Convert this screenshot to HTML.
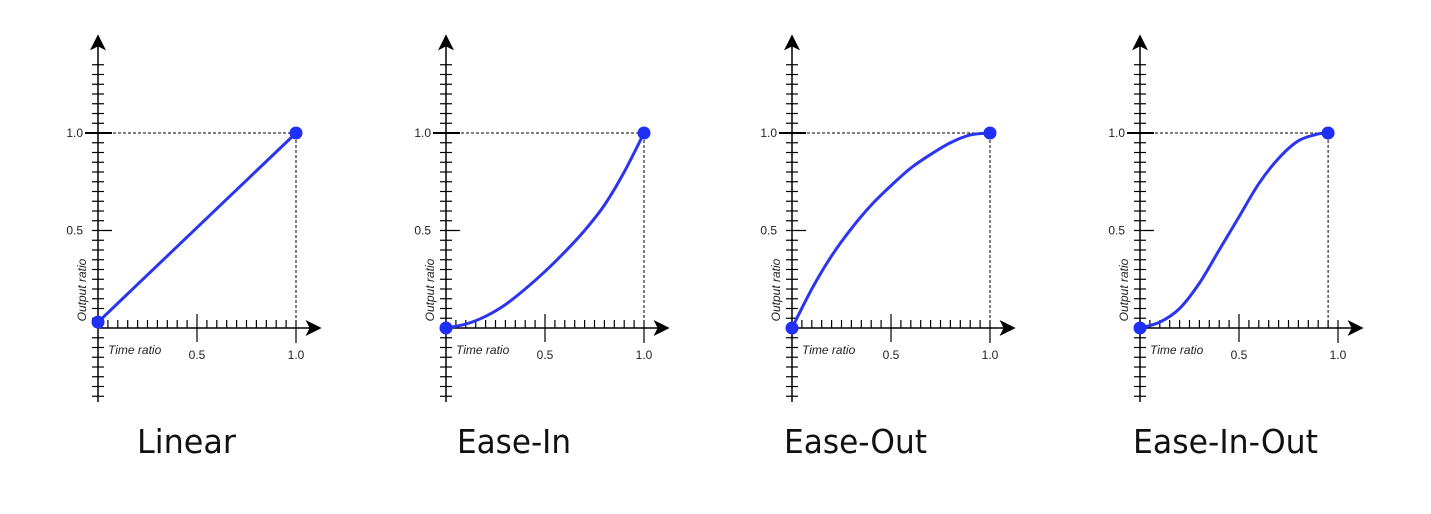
<!DOCTYPE html>
<html><head><meta charset="utf-8"><style>
html,body{margin:0;padding:0;background:#fff;}
svg{display:block;}
</style></head><body>
<svg id="chart" width="1431" height="514" viewBox="0 0 1431 514" xmlns="http://www.w3.org/2000/svg">
<defs>
<marker id="arr" viewBox="0 0 10 10" refX="9" refY="5" markerWidth="22" markerHeight="16" markerUnits="userSpaceOnUse" orient="auto"><path d="M0,0 L10,5 L0,10 L2.5,5 z" fill="#000"/></marker>
</defs>
</svg>
<script>
const titles = ["Linear","Ease-In","Ease-Out","Ease-In-Out"];
const titleWidths = [99,114,143,185];
const titleX = [137,457,784,1133];
const originsX = [98,446,792,1140];
const xLinear = [0,1];
const yLinear = [0.03,1];
const xEaseIn = [0,0.1,0.2,0.3,0.4,0.5,0.6,0.7,0.8,0.9,1];
const yEaseIn = [0,0.02,0.06,0.12,0.2,0.29,0.39,0.5,0.63,0.8,1];
const xEaseOut = [0,0.1,0.2,0.3,0.4,0.5,0.6,0.7,0.8,0.9,1];
const yEaseOut = [0,0.2,0.37,0.51,0.63,0.73,0.82,0.89,0.95,0.99,1];
const xEaseInOut = [0,0.1,0.2,0.3,0.4,0.5,0.6,0.7,0.8,0.9,0.95];
const yEaseInOut = [0,0.03,0.1,0.23,0.4,0.57,0.74,0.87,0.96,0.995,1];
const seriesX = [xLinear,xEaseIn,xEaseOut,xEaseInOut];
const seriesY = [yLinear,yEaseIn,yEaseOut,yEaseInOut];
const xTickLabels = ["0.5","1.0"];
const yTickLabels = ["0.5","1.0"];

const svg = document.getElementById('chart');
const NS = 'http://www.w3.org/2000/svg';
const UX = 198, UY = 195, OY = 328;
function mk(tag, attrs, parent){const e=document.createElementNS(NS,tag);for(const k in attrs)e.setAttribute(k,attrs[k]);(parent||svg).appendChild(e);return e;}

for(let c=0;c<4;c++){
  const ox = originsX[c];
  const sx = v => ox + v*UX;
  const sy = v => OY - v*UY;
  const g = mk('g',{});
  
  
  const ya = mk('line',{x1:ox,y1:402,x2:ox,y2:36,stroke:'#000','stroke-width':1.5,'marker-end':'url(#arr)'},g);
  
  
  for(let i=-7;i<=27;i++){
    const y = OY - i*UY/20;
    if(y>400||y<46) continue;
    if(i===0) continue;
    let x1=ox-6,x2=ox+6;
    if(i===10){x2=ox+14;x1=ox-6;}
    if(i===20){x1=ox-13;x2=ox+14;}
    mk('line',{x1:x1,y1:y,x2:x2,y2:y,stroke:'#000','stroke-width':i===20?2:1.2},g);
  }
  const xa = mk('line',{x1:ox,y1:OY,x2:ox+222,y2:OY,stroke:'#000','stroke-width':1.5,'marker-end':'url(#arr)'},g);
  
  
  for(let i=1;i<=20;i++){
    const x = ox + i*UX/20;
    let y1=OY-8,y2=OY;
    if(i===10){y1=OY-14;y2=OY+14;}
    if(i===20){y1=OY-8;y2=OY+15;}
    mk('line',{x1:x,y1:y1,x2:x,y2:y2,stroke:'#000','stroke-width':1.2},g);
  }
  const ylbl=[0.5,1];
  ylbl.forEach((v,i)=>{const t=mk('text',{x:ox-15,y:sy(v)+4,'font-family':'Liberation Sans, sans-serif','font-size':12,'text-anchor':'end',fill:'#222'},g);t.textContent=yTickLabels[i];
    
    });
  ylbl.forEach((v,i)=>{const t=mk('text',{x:sx(v),y:OY+31,'font-family':'Liberation Sans, sans-serif','font-size':12,'text-anchor':'middle',fill:'#222'},g);t.textContent=xTickLabels[i];
    
    });
  const tt=mk('text',{x:ox+10,y:OY+26,'font-family':'Liberation Sans, sans-serif','font-size':12,'font-style':'italic',fill:'#222'},g);tt.textContent='Time  ratio';
  
  
  const ot=mk('text',{x:0,y:0,transform:`translate(${ox-12},${OY-38}) rotate(-90)`,'font-family':'Liberation Sans, sans-serif','font-size':12,'font-style':'italic','text-anchor':'middle',fill:'#222'},g);ot.textContent='Output ratio';
  
  
  const xs=seriesX[c], ys=seriesY[c];
  const ex=sx(xs[xs.length-1]), ey=sy(ys[ys.length-1]);
  mk('path',{d:`M${ox+10},${ey} H${ex} V${OY}`,fill:'none',stroke:'#000','stroke-width':1,'stroke-dasharray':'3,2'},g);
  const P = xs.map((v,i)=>[sx(v),sy(ys[i])]);
  let d=`M${P[0][0]},${P[0][1]}`;
  for(let i=0;i<P.length-1;i++){
    const p0=P[Math.max(0,i-1)],p1=P[i],p2=P[i+1],p3=P[Math.min(P.length-1,i+2)];
    d+=` C${p1[0]+(p2[0]-p0[0])/6},${p1[1]+(p2[1]-p0[1])/6} ${p2[0]-(p3[0]-p1[0])/6},${p2[1]-(p3[1]-p1[1])/6} ${p2[0]},${p2[1]}`;
  }
  const cv=mk('path',{d:d,fill:'none',stroke:'#2a35f0','stroke-width':3},g);
  
  
  [[P[0][0],P[0][1]],[ex,ey]].forEach(p=>{const dot=mk('circle',{cx:p[0],cy:p[1],r:6.5,fill:'#1f2ff5'},g);
    
    });
  const ti=mk('text',{x:titleX[c],y:453,'font-family':'DejaVu Sans, sans-serif','font-size':33,fill:'#111',textLength:titleWidths[c],lengthAdjust:'spacingAndGlyphs'},g);
  ti.textContent=titles[c];
  
  
}
</script>
</body></html>
